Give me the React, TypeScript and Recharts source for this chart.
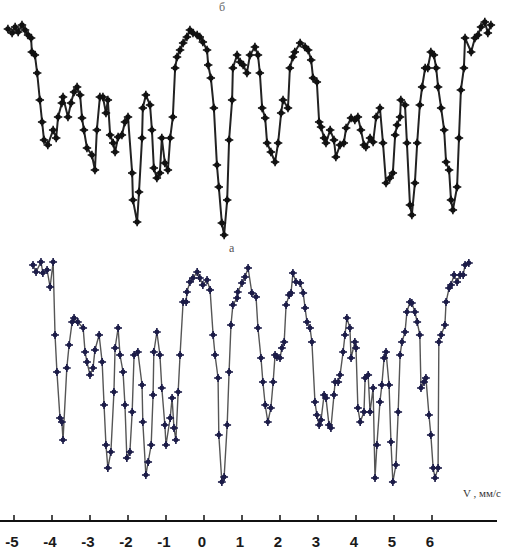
import { Line, LineChart, XAxis, YAxis } from "recharts";

// spectrum б (top), velocity in mm/s and relative count level
const velB = [
  -5.16, -5.05, -4.97, -4.89, -4.79, -4.71, -4.63, -4.55, -4.53, -4.45, -4.39, -4.32, -4.26, -4.21, -4.11, -3.97,
  -3.89, -3.84, -3.74, -3.71, -3.58, -3.5, -3.42, -3.34, -3.26, -3.21, -3.16, -3.08, -2.95, -2.87, -2.82, -2.74,
  -2.66, -2.58, -2.53, -2.47, -2.39, -2.34, -2.26, -2.16, -2.08, -2.0, -1.89, -1.87, -1.76, -1.71, -1.63, -1.61,
  -1.53, -1.42, -1.37, -1.32, -1.24, -1.16, -1.11, -1.03, -0.95, -0.89, -0.82, -0.76, -0.71, -0.63, -0.55, -0.45,
  -0.37, -0.29, -0.18, -0.11, -0.03, 0.08, 0.11, 0.18, 0.26, 0.34, 0.39, 0.47, 0.53, 0.61, 0.66, 0.74, 0.76, 0.87,
  0.95, 1.03, 1.13, 1.21, 1.34, 1.42, 1.47, 1.53, 1.61, 1.66, 1.76, 1.87, 1.95, 2.03, 2.08, 2.21, 2.26, 2.34, 2.39,
  2.53, 2.66, 2.74, 2.82, 2.87, 2.97, 3.03, 3.08, 3.16, 3.21, 3.32, 3.42, 3.47, 3.58, 3.68, 3.74, 3.87, 3.97, 4.05,
  4.13, 4.21, 4.26, 4.37, 4.45, 4.53, 4.63, 4.71, 4.79, 4.89, 4.97, 5.03, 5.08, 5.16, 5.18, 5.29, 5.34, 5.42, 5.47,
  5.55, 5.61, 5.68, 5.74, 5.82, 5.89, 5.97, 6.05, 6.11, 6.16, 6.24, 6.32, 6.37, 6.45, 6.5, 6.55, 6.66, 6.71, 6.76,
  6.84, 6.87, 7.03, 7.13, 7.21, 7.29, 7.39, 7.47, 7.55,
];
const countB = [
  492, 488, 494, 489, 496, 491, 486, 483, 469, 466, 448, 421, 399, 381, 376, 391,
  383, 404, 418, 424, 404, 418, 429, 434, 426, 403, 391, 373, 366, 351, 391, 424,
  424, 408, 421, 386, 378, 369, 384, 386, 399, 404, 348, 321, 299, 329, 383, 413,
  426, 416, 391, 353, 343, 348, 383, 358, 351, 383, 404, 453, 464, 471, 478, 484,
  491, 488, 486, 484, 479, 471, 456, 443, 413, 356, 334, 298, 286, 321, 381, 421, 453, 466,
  459, 456, 448, 466, 474, 466, 448, 413, 403, 378, 369, 359, 378, 408, 421, 413, 453, 464, 469,
  478, 474, 471, 461, 443, 439, 399, 394, 383, 378, 391, 381, 364, 376, 378, 393, 403, 401, 404,
  391, 376, 374, 383, 379, 404, 413, 378, 338, 343, 348, 386, 396, 404, 421, 416, 378, 316, 306,
  338, 378, 416, 434, 453, 453, 469, 466, 453, 434, 413, 391, 359, 351, 321, 311, 334, 383, 431,
  453, 483, 469, 483, 486, 494, 499, 488, 496,
];

// spectrum а (bottom)
const velA = [
  -4.5, -4.42, -4.29, -4.24, -4.13, -4.05, -3.97, -3.92, -3.87, -3.79, -3.74, -3.71, -3.61, -3.55, -3.47, -3.42,
  -3.32, -3.18, -3.13, -3.08, -3.0, -2.92, -2.87, -2.76, -2.68, -2.63, -2.58, -2.53, -2.45, -2.37, -2.34, -2.26,
  -2.21, -2.13, -2.08, -2.03, -1.95, -1.89, -1.84, -1.74, -1.63, -1.61, -1.53, -1.47, -1.39, -1.34, -1.32, -1.24,
  -1.16, -1.11, -1.03, -1.0, -0.89, -0.84, -0.79, -0.74, -0.68, -0.63, -0.55, -0.47, -0.45, -0.37, -0.29, -0.18,
  -0.11, -0.03, 0.08, 0.16, 0.24, 0.29, 0.37, 0.39, 0.47, 0.53, 0.61, 0.66, 0.71, 0.76, 0.87, 0.89, 1.0, 1.08,
  1.16, 1.26, 1.37, 1.42, 1.5, 1.55, 1.61, 1.68, 1.76, 1.82, 1.87, 1.92, 2.0, 2.05, 2.11, 2.16, 2.24, 2.29, 2.34,
  2.42, 2.53, 2.61, 2.66, 2.71, 2.79, 2.84, 2.92, 2.97, 3.03, 3.08, 3.16, 3.21, 3.29, 3.34, 3.42, 3.45, 3.53, 3.58,
  3.66, 3.71, 3.76, 3.84, 3.87, 3.97, 4.0, 4.05, 4.11, 4.21, 4.24, 4.32, 4.37, 4.45, 4.5, 4.55, 4.63, 4.68, 4.74,
  4.79, 4.87, 4.92, 4.97, 5.05, 5.11, 5.16, 5.21, 5.29, 5.34, 5.42, 5.47, 5.55, 5.61, 5.68, 5.71, 5.79, 5.84, 5.92,
  5.97, 6.03, 6.08, 6.16, 6.18, 6.24, 6.34, 6.37, 6.45, 6.5, 6.58, 6.66, 6.74, 6.82, 6.87, 6.97,
];
const countA = [
  256, 249, 259, 248, 251, 234, 259, 186, 149, 103, 99, 81, 153, 176, 199, 203,
  199, 193, 169, 159, 146, 153, 171, 186, 159, 116, 76, 53, 69, 129, 173, 193,
  166, 149, 116, 63, 69, 109, 166, 169, 136, 99, 46, 59, 76, 126, 169, 189,
  166, 133, 96, 76, 103, 123, 93, 81, 129, 166, 219, 219, 229, 239, 243, 249,
  243, 236, 241, 231, 186, 166, 143, 86, 39, 44, 96, 149, 196, 216, 223, 229, 238, 244,
  253, 228, 224, 193, 163, 139, 116, 99, 113, 139, 166, 164, 163, 173, 179, 216, 226, 228, 248,
  239, 238, 228, 213, 199, 193, 179, 119, 106, 96, 101, 126, 123, 96, 93, 126, 139, 139, 146,
  169, 186, 203, 193, 163, 179, 173, 113, 99, 109, 143, 146, 109, 133, 43, 76, 119, 136, 163,
  169, 136, 79, 39, 56, 109, 166, 179, 189, 209, 219, 218, 209, 199, 186, 133, 139, 143, 106,
  86, 53, 43, 53, 179, 186, 196, 219, 233, 236, 246, 239, 246, 246, 256, 258,
];

const velTicks = [-5, -4, -3, -2, -1, 0, 1, 2, 3, 4, 5, 6];

const dataB = velB.map((v, i) => ({ v, n: countB[i] }));
const dataA = velA.map((v, i) => ({ v, n: countA[i] }));

const CrossDot = (props: any) => {
  const { cx, cy, ink, rad } = props;
  if (cx == null || cy == null) return null;
  return (
    <g>
      <line x1={cx - rad - 1.5} y1={cy} x2={cx + rad + 1.5} y2={cy} stroke={ink} strokeWidth={1.6} />
      <line x1={cx} y1={cy - rad - 1.5} x2={cx} y2={cy + rad + 1.5} stroke={ink} strokeWidth={1.6} />
      <circle cx={cx} cy={cy} r={rad} fill={ink} />
    </g>
  );
};

const VelTick = (props: any) => {
  const { x, y, payload } = props;
  const label = payload.value < 0 ? `-${Math.abs(payload.value)}` : `${payload.value}`;
  return (
    <g>
      <line x1={x} y1={y - 8} x2={x} y2={y - 14} stroke="#111" strokeWidth={1.5} />
      <text x={x - 2} y={y + 18} textAnchor="middle" fontSize={15} fontWeight={600} fill="#1a1a1a" fontFamily="Liberation Sans, Arial, sans-serif">
        {label}
      </text>
    </g>
  );
};

export default function App() {
  return (
    <div style={{ position: "absolute", left: 0, top: 0, width: 518, height: 554, background: "#fff" }}>
      <LineChart width={518} height={554} margin={{ top: 0, right: 21, left: 0, bottom: 0 }}>
        <XAxis
          dataKey="v"
          type="number"
          domain={[-204 / 38, 293 / 38]}
          allowDataOverflow
          ticks={velTicks}
          height={33}
          axisLine={{ stroke: "#111", strokeWidth: 2 }}
          tickLine={false}
          tick={<VelTick />}
        />
        <YAxis hide domain={[0, 521]} allowDataOverflow />
        <Line
          data={dataB}
          dataKey="n"
          type="linear"
          stroke="#222"
          strokeWidth={2}
          dot={<CrossDot ink="#111" rad={2.7} />}
          activeDot={false}
          isAnimationActive={false}
        />
        <Line
          data={dataA}
          dataKey="n"
          type="linear"
          stroke="#555"
          strokeWidth={1.4}
          dot={<CrossDot ink="#1c1c48" rad={2.4} />}
          activeDot={false}
          isAnimationActive={false}
        />
      </LineChart>
      <div style={{ position: "absolute", left: 219, top: 0, fontSize: 12, color: "#666", fontFamily: "Liberation Serif, serif" }}>б</div>
      <div style={{ position: "absolute", left: 229, top: 241, fontSize: 12, color: "#555", fontFamily: "Liberation Serif, serif" }}>а</div>
      <div style={{ position: "absolute", left: 463, top: 487, fontSize: 11, color: "#333", fontFamily: "Liberation Serif, serif", whiteSpace: "nowrap" }}>
        V , мм/с
      </div>
    </div>
  );
}
